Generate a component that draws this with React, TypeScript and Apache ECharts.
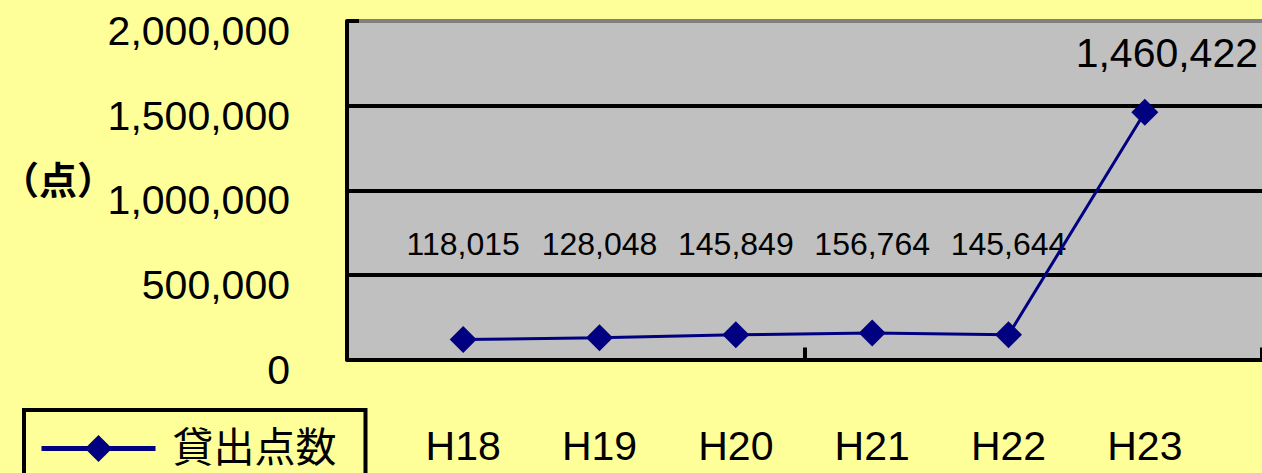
import React, { useEffect, useRef } from "react";
import * as echarts from "echarts";

const CATEGORIES = ["H18", "H19", "H20", "H21", "H22", "H23"];
const VALUES = [118015, 128048, 145849, 156764, 145644, 1460422];
const SERIES_NAME = "貸出点数";
const AXIS_NAME = "（点）";
const Y_MIN = 0;
const Y_MAX = 2000000;
const Y_INTERVAL = 500000;
// height (in data units) at which the manually placed Excel labels sit
const LABEL_LEVEL = 680000;

const FONT = '"Liberation Sans", "Noto Sans CJK JP", sans-serif';
const fmt = (v: number) => Number(v).toLocaleString("en-US");

export default function App() {
  const ref = useRef<HTMLDivElement>(null);
  useEffect(() => {
    if (!ref.current) return;
    const chart = echarts.init(ref.current, undefined, { renderer: "svg" });
    const last = VALUES.length - 1;
    chart.setOption({
      animation: false,
      backgroundColor: "#FFFF99",
      textStyle: { fontFamily: FONT, color: "#000" },
      grid: [
        { left: 347, top: 21, right: -3, bottom: 113.5, show: true, backgroundColor: "#C0C0C0", borderWidth: 0 },
        { left: 395, top: 21, width: 818, bottom: 113.5 },
      ],
      xAxis: [
        {
          gridIndex: 0, type: "value", min: 0, max: 2, interval: 1,
          axisLine: { show: true, lineStyle: { color: "#000", width: 4 } },
          axisTick: { show: true, inside: true, length: 12, lineStyle: { color: "#000", width: 4 } },
          axisLabel: { show: false }, splitLine: { show: false },
        },
        {
          gridIndex: 1, type: "category", data: CATEGORIES, boundaryGap: true,
          axisLine: { show: false },
          axisTick: { show: false },
          axisLabel: { fontSize: 41, color: "#000", margin: 66, fontFamily: FONT },
        },
      ],
      yAxis: [
        {
          gridIndex: 0, type: "value", min: Y_MIN, max: Y_MAX, interval: Y_INTERVAL,
          axisLine: { show: true, lineStyle: { color: "#000", width: 4 } },
          axisTick: { show: true, inside: true, length: 12, lineStyle: { color: "#000", width: 4 } },
          axisLabel: { fontSize: 41, color: "#000", margin: 57, verticalAlign: "top", lineHeight: 20, fontFamily: FONT, formatter: (v: number) => fmt(v) },
          splitLine: { show: true, lineStyle: { color: ["#000", "#000", "#000", "#000", "#808080"], width: 4 } },
        },
        { gridIndex: 1, type: "value", min: Y_MIN, max: Y_MAX, interval: Y_INTERVAL, show: false },
      ],
      legend: {
        data: [SERIES_NAME],
        left: 24, top: 410,
        padding: [18, 29, 40, 15],
        borderColor: "#000", borderWidth: 4,
        itemWidth: 114, itemHeight: 34,
        lineStyle: { width: 5, color: "#000080" },
        textStyle: { fontSize: 41, color: "#000", fontFamily: FONT, padding: [0, 0, 0, 12] },
      },
      graphic: [
        { type: "text", x: 58, y: 177, style: { text: AXIS_NAME, font: `bold 38px "Noto Sans CJK JP"`, fill: "#000", textAlign: "center", textVerticalAlign: "middle" } },
      ],
      series: [
        {
          name: SERIES_NAME, type: "line", xAxisIndex: 1, yAxisIndex: 1,
          symbol: "diamond", symbolSize: 27,
          lineStyle: { color: "#000080", width: 3 },
          itemStyle: { color: "#000080" },
          data: VALUES.map((v, i) =>
            i === last
              ? { value: v, label: { show: true, position: "top", distance: 25, offset: [22, 0], fontSize: 41, color: "#000", fontFamily: FONT, formatter: (p: any) => fmt(p.value) } }
              : v
          ),
        },
        {
          name: "labels", type: "scatter", xAxisIndex: 1, yAxisIndex: 1,
          symbolSize: 1, itemStyle: { color: "rgba(0,0,0,0)" }, silent: true,
          data: VALUES.map((v, i) => (i === last ? "-" : LABEL_LEVEL)),
          label: { show: true, position: "inside", fontSize: 32, color: "#000", opacity: 1, fontFamily: FONT, formatter: (p: any) => fmt(VALUES[p.dataIndex]) },
        },
      ],
    });
    return () => chart.dispose();
  }, []);
  return <div ref={ref} style={{ position: "fixed", left: 0, top: 0, width: 1262, height: 473 }} />;
}
